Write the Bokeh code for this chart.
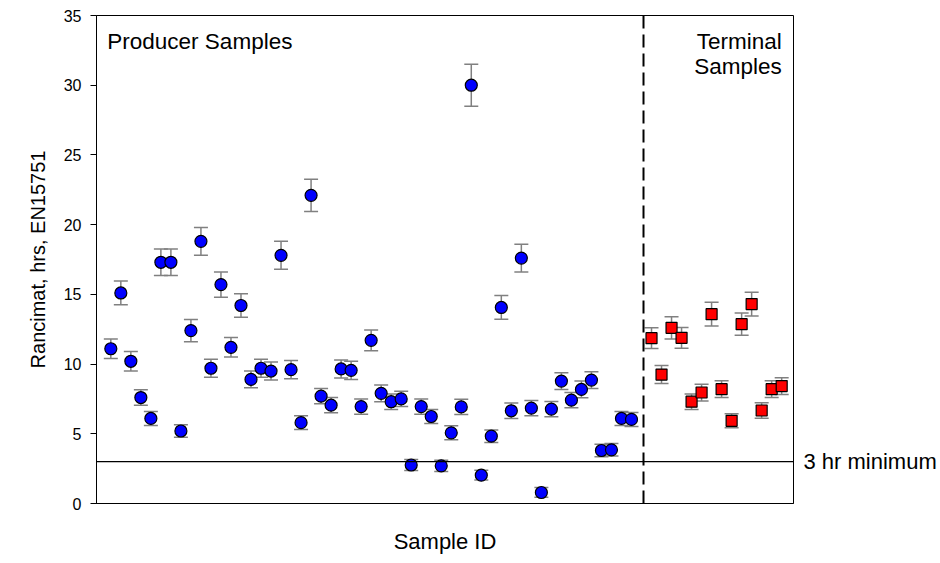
from bokeh.plotting import figure
from bokeh.models import (ColumnDataSource, Whisker, TeeHead, Span, Label, FixedTicker,
                          Range1d, LinearAxis)
from bokeh.embed import file_html
from bokeh.resources import INLINE

# Producer samples (blue circles)
producer_ids = list(range(1, 54))
producer_vals = [11.1, 15.1, 10.2, 7.6, 6.1, 17.3, 17.3, 5.2, 12.4, 18.8,
                 9.7, 15.7, 11.2, 14.2, 8.9, 9.7, 9.5, 17.8, 9.6, 5.8,
                 22.1, 7.7, 7.05, 9.65, 9.55, 6.95, 11.7, 7.9, 7.3, 7.5,
                 2.76, 6.95, 6.24, 2.7, 5.07, 6.93, 30.0, 2.03, 4.83, 14.06,
                 6.65, 17.6, 6.84, 0.79, 6.77, 8.78, 7.41, 8.18, 8.85, 3.8,
                 3.85, 6.1, 6.03]
producer_err = [0.7, 0.85, 0.7, 0.55, 0.5, 0.95, 0.95, 0.45, 0.8, 1.0,
                0.65, 0.9, 0.7, 0.85, 0.6, 0.65, 0.65, 1.0, 0.65, 0.5,
                1.15, 0.55, 0.55, 0.65, 0.65, 0.55, 0.75, 0.6, 0.55, 0.55,
                0.4, 0.55, 0.5, 0.4, 0.5, 0.55, 1.5, 0.35, 0.45, 0.85,
                0.55, 1.0, 0.55, 0.35, 0.55, 0.6, 0.55, 0.6, 0.6, 0.45,
                0.45, 0.5, 0.5]

# Terminal samples (red squares)
terminal_ids = list(range(55, 69))
terminal_vals = [11.86, 9.25, 12.6, 11.88, 7.3, 7.96, 13.58, 8.2, 5.93, 12.86,
                 14.3, 6.67, 8.2, 8.42]
terminal_err = [0.75, 0.65, 0.8, 0.75, 0.55, 0.6, 0.85, 0.6, 0.5, 0.8,
                0.85, 0.55, 0.6, 0.6]

y_ticks = [0, 5, 10, 15, 20, 25, 30, 35]
minimum_hr = 3
minimum_label = "3 hr minimum"
divider_x = 54.2

FONT = "Liberation Sans"

def src(ids, vals, errs):
    return ColumnDataSource(dict(
        x=ids, y=vals,
        upper=[v + e for v, e in zip(vals, errs)],
        lower=[v - e for v, e in zip(vals, errs)],
    ))

ps = src(producer_ids, producer_vals, producer_err)
ts = src(terminal_ids, terminal_vals, terminal_err)

p = figure(width=940, height=558, output_backend="svg", toolbar_location=None,
           x_range=Range1d(-0.43, 69.18), y_range=Range1d(0, 35),
           min_border_left=96, min_border_right=147, min_border_top=15, min_border_bottom=55)
p.frame_width = 697
p.frame_height = 488

p.xgrid.visible = False
p.ygrid.visible = False
p.outline_line_color = "black"
p.outline_line_width = 1
p.background_fill_color = "white"
p.border_fill_color = "white"

# axes
p.yaxis.ticker = FixedTicker(ticks=y_ticks)
p.yaxis.minor_tick_line_color = None
p.yaxis.major_tick_out = 6
p.yaxis.major_tick_in = 0
p.yaxis.major_tick_line_color = "black"
p.yaxis.axis_line_color = "black"
p.yaxis.major_label_text_font = FONT
p.yaxis.major_label_text_font_size = "16px"
p.yaxis.major_label_text_color = "black"
p.yaxis.major_label_standoff = 9
p.yaxis.axis_label = "Rancimat, hrs, EN15751"
p.yaxis.axis_label_text_font = FONT
p.yaxis.axis_label_text_font_size = "20px"
p.yaxis.axis_label_text_font_style = "normal"
p.yaxis.axis_label_text_color = "black"
p.yaxis.axis_label_standoff = 12

p.xaxis.ticker = FixedTicker(ticks=[])
p.xaxis.minor_tick_line_color = None
p.xaxis.major_tick_line_color = None
p.xaxis.major_label_text_font_size = "0px"
p.xaxis.axis_line_color = "black"
p.xaxis.axis_label = "Sample ID"
p.xaxis.axis_label_text_font = FONT
p.xaxis.axis_label_text_font_size = "22px"
p.xaxis.axis_label_text_font_style = "normal"
p.xaxis.axis_label_text_color = "black"
p.xaxis.axis_label_standoff = 25

# right-side label for the minimum line
raxis = LinearAxis(ticker=FixedTicker(ticks=[minimum_hr]),
                   major_label_overrides={minimum_hr: minimum_label},
                   axis_line_color=None, major_tick_line_color=None,
                   minor_tick_line_color=None, major_tick_out=0, major_tick_in=0,
                   major_label_text_font=FONT, major_label_text_font_size="22px",
                   major_label_text_color="black", major_label_standoff=10)
p.add_layout(raxis, "right")

# reference lines
p.add_layout(Span(location=minimum_hr, dimension="width", line_color="black", line_width=1.3))
p.add_layout(Span(location=divider_x, dimension="height", line_color="black", line_width=2,
                  line_dash="13 6"))

# error bars
for s in (ps, ts):
    w = Whisker(source=s, base="x", upper="upper", lower="lower",
                line_color="#808080", line_width=1.5,
                upper_head=TeeHead(size=14, line_color="#808080", line_width=1.5),
                lower_head=TeeHead(size=14, line_color="#808080", line_width=1.5))
    p.add_layout(w)

p.scatter("x", "y", source=ps, marker="circle", size=12, fill_color="#0000FF",
          line_color="black", line_width=1.2)
p.scatter("x", "y", source=ts, marker="square", size=11, fill_color="#FF0000",
          line_color="black", line_width=1.2)

# text annotations
p.add_layout(Label(x=0.65, y=33.15, text="Producer Samples", text_font=FONT,
                   text_font_size="22.5px", text_baseline="alphabetic", text_color="black"))
p.add_layout(Label(x=68.0, y=33.15, text="Terminal", text_font=FONT, text_align="right",
                   text_font_size="22.5px", text_baseline="alphabetic", text_color="black"))
p.add_layout(Label(x=68.0, y=31.35, text="Samples", text_font=FONT, text_align="right",
                   text_font_size="22.5px", text_baseline="alphabetic", text_color="black"))

open("out.html", "w").write(file_html(p, INLINE))
